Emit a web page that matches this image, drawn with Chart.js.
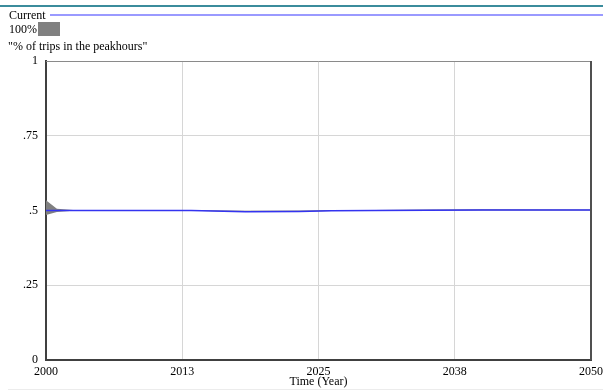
<!DOCTYPE html>
<html>
<head>
<meta charset="utf-8">
<script src="https://cdn.jsdelivr.net/npm/chart.js@4/dist/chart.umd.min.js"></script>
<style>
  html, body { margin: 0; padding: 0; background: #fff; }
  #wrap { width: 603px; height: 392px; position: relative; }
</style>
</head>
<body>
<div id="wrap"><canvas id="peak"></canvas></div>
<script>
// data
var years      = [2000, 2001, 2002.5, 2012, 2013.3, 2018.3, 2023.2, 2026.2, 2030.1, 2035, 2040, 2050];
var current    = [0.500, 0.500, 0.500, 0.500, 0.500, 0.496, 0.497, 0.499, 0.500, 0.501, 0.502, 0.502];
var bandUpper  = [0.534, 0.506, 0.502, 0.502, 0.502, 0.498, 0.499, 0.502, 0.502, 0.503, 0.504, 0.503];
var bandLower  = [0.485, 0.495, 0.499, 0.499, 0.499, 0.495, 0.496, 0.498, 0.499, 0.500, 0.501, 0.501];
var xTicks     = [2000, 2012.5, 2025, 2037.5, 2050];
var yTicks     = [0, 0.25, 0.5, 0.75, 1];
var varName    = '"% of trips in the peakhours"';

var serif = "'Liberation Serif', 'Times New Roman', serif";

function pts(vals) {
    return years.map(function (y, i) { return { x: y, y: vals[i] }; });
}

// header lines, legend, and plot frame
var decor = {
    id: 'decor',
    beforeDraw: function (chart) {
        var c = chart.ctx;
        c.save();
        c.fillStyle = '#fff';
        c.fillRect(0, 0, chart.width, chart.height);
        c.strokeStyle = '#3b8c9c';
        c.lineWidth = 2;
        c.beginPath(); c.moveTo(0, 6); c.lineTo(chart.width, 6); c.stroke();
        c.strokeStyle = '#9a9aff';
        c.lineWidth = 2;
        c.beginPath(); c.moveTo(50, 15); c.lineTo(chart.width, 15); c.stroke();
        c.strokeStyle = '#ececec';
        c.lineWidth = 1;
        c.beginPath(); c.moveTo(8, 389.5); c.lineTo(chart.width, 389.5); c.stroke();
        c.fillStyle = '#808080';
        c.fillRect(38, 22, 22, 14);
        c.fillStyle = '#000';
        c.font = '12px ' + serif;
        c.textBaseline = 'middle';
        c.textAlign = 'left';
        c.fillText('Current', 9, 16);
        c.fillText('100%', 9, 30);
        c.fillText(varName, 8, 47);
        c.restore();
    },
    afterDatasetsDraw: function (chart) {
        var a = chart.chartArea, c = chart.ctx;
        c.save();
        c.lineWidth = 1;
        c.strokeStyle = '#8a8a8a';
        c.beginPath(); c.moveTo(a.left, a.top + 0.5); c.lineTo(a.right, a.top + 0.5); c.stroke();
        c.strokeStyle = '#505050';
        c.lineWidth = 2;
        c.beginPath(); c.moveTo(a.right, a.top); c.lineTo(a.right, a.bottom); c.stroke();
        c.restore();
    }
};

new Chart(document.getElementById('peak'), {
    type: 'line',
    data: {
        datasets: [{
            data: pts(bandLower),
            borderWidth: 0,
            borderColor: 'rgba(0,0,0,0)',
            pointRadius: 0,
            fill: false,
            order: 2
        }, {
            data: pts(bandUpper),
            borderWidth: 0,
            borderColor: 'rgba(0,0,0,0)',
            backgroundColor: '#808080',
            pointRadius: 0,
            fill: '-1',
            order: 1
        }, {
            data: pts(current),
            borderColor: '#3434f0',
            borderWidth: 1.5,
            pointRadius: 0,
            fill: false,
            order: 0
        }]
    },
    options: {
        responsive: true,
        maintainAspectRatio: false,
        animation: false,
        layout: { padding: { top: 61, right: 12, left: 0, bottom: 0 } },
        plugins: { legend: { display: false }, tooltip: { enabled: false } },
        scales: {
            x: {
                type: 'linear',
                min: 2000,
                max: 2050,
                afterBuildTicks: function (s) { s.ticks = xTicks.map(function (v) { return { value: v }; }); },
                afterFit: function (s) {
                    s.height = 32;
                    s.paddingLeft = 0;
                    s.paddingRight = 0;
                },
                ticks: {
                    color: '#000',
                    font: { family: serif, size: 12 },
                    padding: 5,
                    maxRotation: 0,
                    autoSkip: false,
                    callback: function (v) { return String(Math.round(v)); }
                },
                grid: { color: '#d6d6d6', drawTicks: false },
                border: { color: '#404040', width: 2 },
                title: {
                    display: true,
                    text: 'Time (Year)',
                    color: '#000',
                    font: { family: serif, size: 12 },
                    padding: { top: 0, bottom: 3 }
                }
            },
            y: {
                min: 0,
                max: 1,
                afterBuildTicks: function (s) { s.ticks = yTicks.map(function (v) { return { value: v }; }); },
                afterFit: function (s) { s.width = 46; },
                ticks: {
                    color: '#000',
                    font: { family: serif, size: 12 },
                    padding: 8,
                    callback: function (v) {
                        if (v === 0 || v === 1) return String(v);
                        return String(v).replace('0.', '.');
                    }
                },
                grid: { color: '#d6d6d6', drawTicks: false },
                border: { color: '#404040', width: 2 }
            }
        }
    },
    plugins: [decor]
});
</script>
</body>
</html>
